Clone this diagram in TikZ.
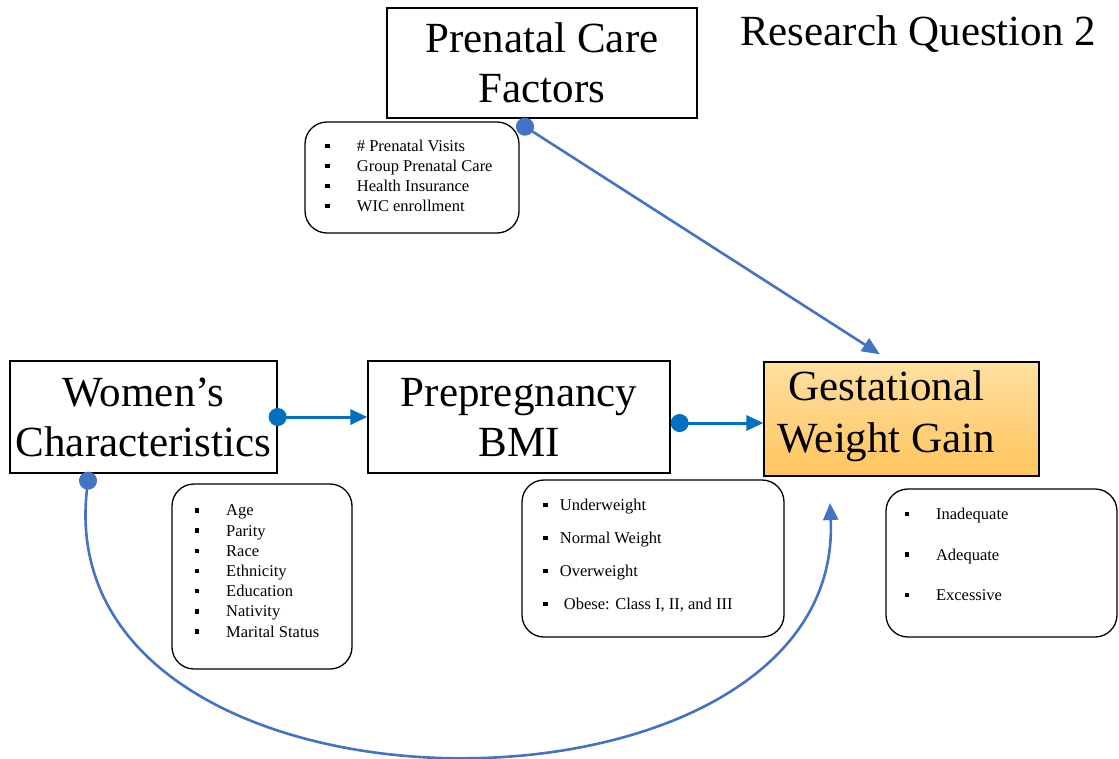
\documentclass[tikz,border=0pt]{standalone}
\usepackage{fontspec}
\setmainfont{Liberation Serif}
\usetikzlibrary{positioning}
\usetikzlibrary{arrows.meta}
\definecolor{darkblue}{HTML}{0070C0}
\definecolor{lineblue}{HTML}{4472C4}
\definecolor{gwgtop}{HTML}{FFDFA0}
\definecolor{gwgbot}{HTML}{FFC55E}
\newcommand{\sqb}{\rule[0.2em]{4.5pt}{4.5pt}}

\begin{document}
\begin{tikzpicture}[x=1pt,y=-1pt,
	box/.style={draw, line width=1.3pt, inner sep=0pt, align=center, font=\fontsize{43}{50}\selectfont},
	listbox/.style={draw, line width=1.3pt, rounded corners=22pt, inner sep=0pt},
	link/.style={line width=3pt, {Circle[length=18pt]}-{Triangle[length=17pt,width=15pt]}, shorten <=-9pt}]
		\useasboundingbox (0,0) rectangle (1119,758);
		\node (pc) [box, minimum width=310pt, minimum height=110pt] at (542,63) {Prenatal Care\\Factors};
		\node (rq) [anchor=base west, inner sep=0pt, font=\fontsize{43}{50}\selectfont] at (740,45) {Research Question 2};
		\node (pcl) [listbox, minimum width=214pt, minimum height=111pt, font=\fontsize{16.5}{20}\selectfont] at (412,177.5)
			{\begin{tabular}{@{}l@{\hspace{27pt}}l@{\hspace{6pt}}}\sqb & \# Prenatal Visits\\ \sqb & Group Prenatal Care\\ \sqb & Health Insurance\\ \sqb & WIC enrollment\end{tabular}};
		\node (wc) [box, minimum width=267pt, minimum height=112pt] at (143.5,417) {Women’s\\Characteristics};
		\node (bmi) [box, minimum width=302pt, minimum height=112pt] at (519,417) {Prepregnancy\\BMI};
		\node (gwg) [box, minimum width=275pt, minimum height=114pt, top color=gwgtop, bottom color=gwgbot,
			label={[xshift=-15pt, yshift=3pt, align=center, font=\fontsize{43}{52}\selectfont]center:Gestational\\Weight Gain}] at (901.5,419) {};
		\node (wcl) [listbox, minimum width=180pt, minimum height=185pt, font=\fontsize{16.5}{20.2}\selectfont] at (262,576.5)
			{\begin{tabular}{@{}l@{\hspace{27pt}}l@{\hspace{10pt}}}\sqb & Age\\ \sqb & Parity\\ \sqb & Race\\ \sqb & Ethnicity\\ \sqb & Education\\ \sqb & Nativity\\ \sqb & Marital Status\\[8pt]\end{tabular}};
		\node (bmil) [listbox, minimum width=262pt, minimum height=157pt, font=\fontsize{16.5}{33}\selectfont] at (653,558.5)
			{\begin{tabular}{@{}l@{\hspace{12pt}}l@{\hspace{30pt}}}\sqb & Underweight\\ \sqb & Normal Weight\\ \sqb & Overweight\\ \sqb & \hspace{4pt}Obese: Class I, II, and III\\[10pt]\end{tabular}};
		\node (gwgl) [listbox, minimum width=231pt, minimum height=148pt, font=\fontsize{16.5}{40.5}\selectfont] at (1001.5,563)
			{\begin{tabular}{@{}l@{\hspace{27pt}}l@{\hspace{90pt}}}\sqb & Inadequate\\ \sqb & Adequate\\ \sqb & Excessive\\[22pt]\end{tabular}};
		\coordinate (gwgin) at (830,503);
		\draw[link, darkblue] (wc.east) -- (bmi.west);
		\draw[link, darkblue] ([xshift=9pt,yshift=-6pt]bmi.east) -- ([yshift=-4pt]gwg.west);
		\draw[link, lineblue, line width=2.6pt, {Circle[length=18pt]}-{Triangle[length=18pt,width=15pt]}] ([xshift=-17pt,yshift=-8pt]pc.south) -- ([xshift=-21.5pt,yshift=7pt]gwg.north);
		\draw[link, lineblue, line width=2.6pt] ([xshift=-55.5pt,yshift=-7pt]wc.south) .. controls (45,843) and (845,843) .. (gwgin);
\end{tikzpicture}
\end{document}
